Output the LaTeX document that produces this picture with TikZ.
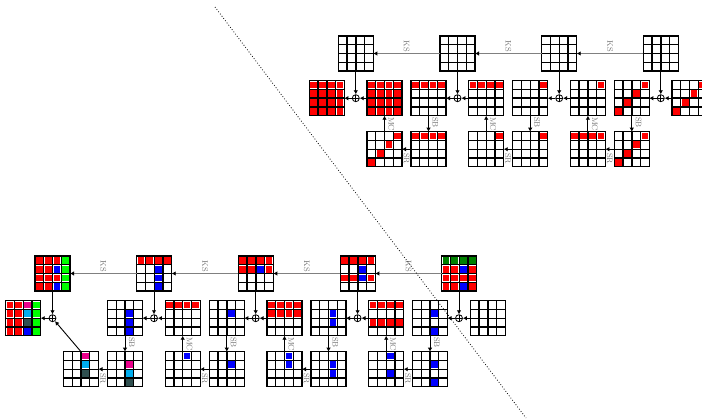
\documentclass[tikz,border=0pt]{standalone}
\usetikzlibrary{arrows.meta,calc}
\definecolor{lime}{RGB}{0,255,0}
\definecolor{dkgreen}{RGB}{0,128,0}
\definecolor{slate}{RGB}{47,79,79}
\tikzset{
  gl/.style={line width=1.4pt, black},
  gbox/.style={minimum size=35pt, inner sep=0pt, outer sep=0pt},
  xorc/.style={circle, draw, line width=0.8pt, minimum size=7pt, inner sep=0pt,
    path picture={\draw[line width=0.8pt] (path picture bounding box.north) -- (path picture bounding box.south) (path picture bounding box.west) -- (path picture bounding box.east);}},
  arr/.style={-{Latex[length=4pt,width=4.5pt]}, line width=0.9pt},
  ksarr/.style={draw=gray, line width=0.9pt, -{Latex[length=4pt,width=4.5pt,color=black]}},
  lbl/.style={text=gray!90!black, font=\fontsize{8}{9}\selectfont, rotate=-90, inner xsep=1pt, inner ysep=3.5pt},
  kslbl/.style={lbl, anchor=east, inner xsep=0.8pt},
  srlbl/.style={lbl, anchor=west, inner xsep=3.5pt},
  vlbl/.style={lbl, anchor=south west},
}
\newcommand\G[4]{%
  \node[gbox] (#1) at ({#2+17.5},{#3+17.5}) {};
  \foreach \cc/\rr/\kk in {#4} {\fill[\kk] ({#2+\cc*8.75+1},{#3+\rr*8.75+1}) rectangle ++(6.75,6.75);}
  \draw[gl] (#2,#3) rectangle ++(35,35);
  \foreach \ii in {1,2,3} {\draw[gl] ({#2+\ii*8.75},#3) -- ++(0,35); \draw[gl] (#2,{#3+\ii*8.75}) -- ++(35,0);}
}
\begin{document}
\begin{tikzpicture}[x=1pt,y=-1pt]
\useasboundingbox (0,0) rectangle (702,420);
% ---------------- upper part ----------------
\G{k0}{338.3}{36}{0/0/white}
\G{k1}{440}{36}{0/0/white}
\G{k2}{541.7}{36}{0/0/white}
\G{k3}{643.3}{36}{0/0/white}
\G{m1}{309.3}{80.7}{0/0/red,1/0/red,2/0/red,3/0/red,0/1/red,1/1/red,2/1/red,3/1/red,0/2/red,1/2/red,2/2/red,3/2/red,0/3/red,1/3/red,2/3/red,3/3/red}
\G{m2}{367}{80.7}{0/0/red,1/0/red,2/0/red,3/0/red,0/1/red,1/1/red,2/1/red,3/1/red,0/2/red,1/2/red,2/2/red,3/2/red,0/3/red,1/3/red,2/3/red,3/3/red}
\G{m3}{411}{80.7}{0/0/red,1/0/red,2/0/red,3/0/red}
\G{m4}{468.7}{80.7}{0/0/red,1/0/red,2/0/red,3/0/red}
\G{m5}{512.7}{80.7}{3/0/red}
\G{m6}{570.4}{80.7}{3/0/red}
\G{m7}{614.3}{80.7}{3/0/red,2/1/red,1/2/red,0/3/red}
\G{m8}{672}{80.7}{3/0/red,2/1/red,1/2/red,0/3/red}
\G{b1}{367}{131.7}{3/0/red,2/1/red,1/2/red,0/3/red}
\G{b2}{411}{131.7}{0/0/red,1/0/red,2/0/red,3/0/red}
\G{b3}{468.7}{131.7}{3/0/red}
\G{b4}{512.7}{131.7}{3/0/red}
\G{b5}{570.4}{131.7}{0/0/red,1/0/red,2/0/red,3/0/red}
\G{b6}{614.3}{131.7}{3/0/red,2/1/red,1/2/red,0/3/red}
\node[xorc] (x0) at (355.8,98.2) {};
\node[xorc] (x1) at (457.5,98.2) {};
\node[xorc] (x2) at (559.2,98.2) {};
\node[xorc] (x3) at (660.8,98.2) {};
\draw[ksarr] (k3) -- node[kslbl]{KS} (k2);
\draw[ksarr] (k2) -- node[kslbl]{KS} (k1);
\draw[ksarr] (k1) -- node[kslbl]{KS} (k0);
\foreach \k/\x in {k0/x0,k1/x1,k2/x2,k3/x3} {\draw[arr] (\k) -- (\x);}
\draw[arr] (m8) -- (x3); \draw[arr] (x3) -- (m7);
\draw[arr] (m7) -- node[vlbl,pos=0]{SB} (b6);
\draw[arr] (b6) -- node[srlbl]{SR} (b5);
\draw[arr] (b5) -- node[vlbl,pos=1]{MC} (m6);
\draw[arr] (m6) -- (x2); \draw[arr] (x2) -- (m5);
\draw[arr] (m5) -- node[vlbl,pos=0]{SB} (b4);
\draw[arr] (b4) -- node[srlbl]{SR} (b3);
\draw[arr] (b3) -- node[vlbl,pos=1]{MC} (m4);
\draw[arr] (m4) -- (x1); \draw[arr] (x1) -- (m3);
\draw[arr] (m3) -- node[vlbl,pos=0]{SB} (b2);
\draw[arr] (b2) -- node[srlbl]{SR} (b1);
\draw[arr] (b1) -- node[vlbl,pos=1]{MC} (m2);
\draw[arr] (m2) -- (x0); \draw[arr] (x0) -- (m1);
% ---------------- lower part ----------------
\G{K0}{35}{256}{0/0/red,1/0/red,2/0/red,3/0/lime,0/1/red,1/1/red,2/1/blue,3/1/lime,0/2/red,1/2/red,2/2/red,3/2/lime,0/3/red,1/3/red,2/3/blue,3/3/lime}
\G{K1}{136.7}{256}{0/0/red,1/0/red,2/0/red,3/0/red,2/1/blue,2/2/blue,2/3/blue}
\G{K2}{238.3}{256}{0/0/red,1/0/red,2/0/red,3/0/red,0/1/red,1/1/red,2/1/blue,3/1/red}
\G{K3}{340.3}{256}{0/0/red,1/0/red,2/0/red,3/0/red,2/1/blue,0/2/red,1/2/red,2/2/blue,3/2/red}
\G{K4}{441.7}{256}{0/0/dkgreen,1/0/dkgreen,2/0/dkgreen,3/0/dkgreen,0/1/red,1/1/red,2/1/blue,3/1/red,0/2/red,1/2/red,2/2/red,3/2/red,0/3/red,1/3/red,2/3/blue,3/3/red}
\G{L1}{5.7}{300.7}{0/0/red,1/0/red,2/0/magenta,3/0/lime,0/1/red,1/1/red,2/1/cyan,3/1/lime,0/2/red,1/2/red,2/2/slate,3/2/lime,0/3/red,1/3/red,2/3/blue,3/3/lime}
\G{L2}{107.5}{300.7}{2/1/blue,2/2/blue,2/3/blue}
\G{L3}{165.2}{300.7}{0/0/red,1/0/red,2/0/red,3/0/red}
\G{L4}{209.3}{300.7}{2/1/blue}
\G{L5}{267}{300.7}{0/0/red,1/0/red,2/0/red,3/0/red,0/1/red,1/1/red,2/1/red,3/1/red}
\G{L6}{311}{300.7}{2/1/blue,2/2/blue}
\G{L7}{368.7}{300.7}{0/0/red,1/0/red,2/0/red,3/0/red,0/2/red,1/2/red,2/2/red,3/2/red}
\G{L8}{412.5}{300.7}{2/1/blue,2/3/blue}
\G{L9}{470.3}{300.7}{0/0/white}
\G{B1}{63.5}{351.7}{2/0/magenta,2/1/cyan,2/2/slate}
\G{B2}{107.5}{351.7}{2/1/magenta,2/2/cyan,2/3/slate}
\G{B3}{165.2}{351.7}{2/0/blue}
\G{B4}{209.3}{351.7}{2/1/blue}
\G{B5}{267}{351.7}{2/0/blue,2/1/blue}
\G{B6}{311}{351.7}{2/1/blue,2/2/blue}
\G{B7}{368.7}{351.7}{2/0/blue,2/2/blue}
\G{B8}{412.5}{351.7}{2/1/blue,2/3/blue}
\node[xorc] (X0) at (52.5,318.2) {};
\node[xorc] (X1) at (154.0,318.2) {};
\node[xorc] (X2) at (255.7,318.2) {};
\node[xorc] (X3) at (357.6,318.2) {};
\node[xorc] (X4) at (459.0,318.2) {};
\draw[ksarr] (K4) -- node[kslbl]{KS} (K3);
\draw[ksarr] (K3) -- node[kslbl]{KS} (K2);
\draw[ksarr] (K2) -- node[kslbl]{KS} (K1);
\draw[ksarr] (K1) -- node[kslbl]{KS} (K0);
\foreach \k/\x in {K0/X0,K1/X1,K2/X2,K3/X3,K4/X4} {\draw[arr] (\k.south -| \x) -- (\x);}
\draw[arr] (L9) -- (X4); \draw[arr] (X4) -- (L8);
\draw[arr] (L8) -- node[vlbl,pos=0]{SB} (B8);
\draw[arr] (B8) -- node[srlbl]{SR} (B7);
\draw[arr] (B7) -- node[vlbl,pos=1]{MC} (L7);
\draw[arr] (L7) -- (X3); \draw[arr] (X3) -- (L6);
\draw[arr] (L6) -- node[vlbl,pos=0]{SB} (B6);
\draw[arr] (B6) -- node[srlbl]{SR} (B5);
\draw[arr] (B5) -- node[vlbl,pos=1]{MC} (L5);
\draw[arr] (L5) -- (X2); \draw[arr] (X2) -- (L4);
\draw[arr] (L4) -- node[vlbl,pos=0]{SB} (B4);
\draw[arr] (B4) -- node[srlbl]{SR} (B3);
\draw[arr] (B3) -- node[vlbl,pos=1]{MC} (L3);
\draw[arr] (L3) -- (X1); \draw[arr] (X1) -- (L2);
\draw[arr] (L2) -- node[vlbl,pos=0]{SB} (B2);
\draw[arr] (B2) -- node[srlbl]{SR} (B1);
\draw[arr] (B1.north) -- (X0);
\draw[arr] (X0) -- (L1);
% dotted separator
\coordinate (d1) at (215,7);
\coordinate (d2) at (526,418);
\draw[dotted, line width=0.8pt] (d1) -- (d2);
\end{tikzpicture}
\end{document}
